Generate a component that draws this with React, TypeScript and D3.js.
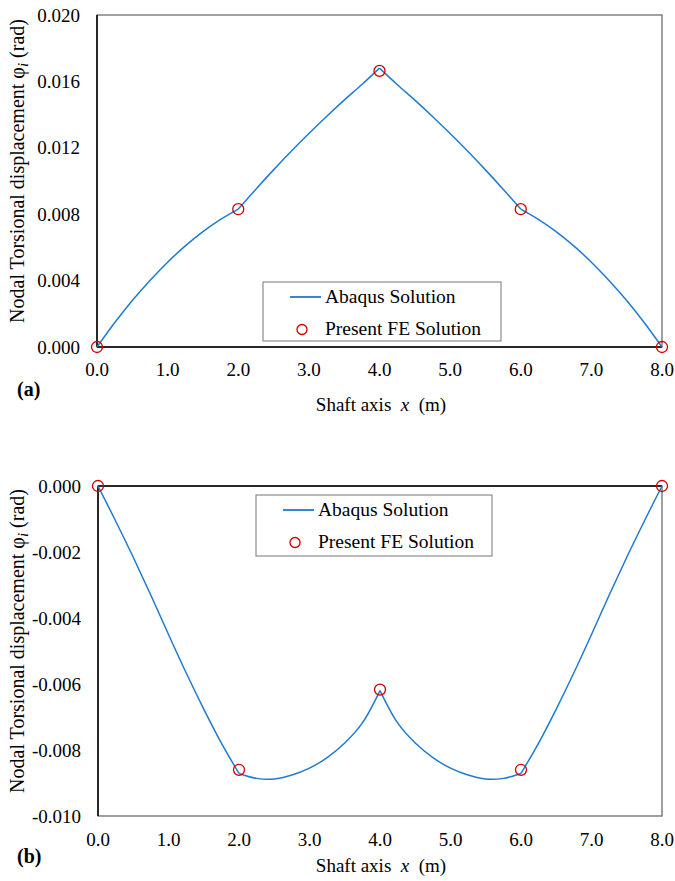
import { useEffect, useRef } from "react";
import * as d3 from "d3";

const xSamples = [0, 0.25, 0.5, 0.75, 1.0, 1.25, 1.5, 1.75, 2.0, 2.25, 2.5, 2.75, 3.0, 3.25, 3.5, 3.75, 4.0,
  4.25, 4.5, 4.75, 5.0, 5.25, 5.5, 5.75, 6.0, 6.25, 6.5, 6.75, 7.0, 7.25, 7.5, 7.75, 8.0];

const abaqusA = [0, 0.00146, 0.0028, 0.00401, 0.00511, 0.00609, 0.00695, 0.00769, 0.00831,
  0.00951, 0.01067, 0.01179, 0.01286, 0.01389, 0.01487, 0.01581, 0.0168,
  0.01581, 0.01487, 0.01389, 0.01286, 0.01179, 0.01067, 0.00951, 0.00831,
  0.00769, 0.00695, 0.00609, 0.00511, 0.00401, 0.0028, 0.00146, 0];

const abaqusB = [0, -0.00106, -0.00216, -0.00331, -0.0045, -0.00566, -0.00676, -0.00779, -0.00871,
  -0.00886, -0.00888, -0.00876, -0.00855, -0.00823, -0.00779, -0.00718, -0.0062,
  -0.00718, -0.00779, -0.00823, -0.00855, -0.00876, -0.00888, -0.00886, -0.00871,
  -0.00779, -0.00676, -0.00566, -0.0045, -0.00331, -0.00216, -0.00106, 0];

// nodal FE results
const nodes = [0, 2, 4, 6, 8];
const feA = [0, 0.0083, 0.01663, 0.0083, 0];
const feB = [0, -0.0086, -0.00617, -0.0086, 0];

const xTicks = [0, 1, 2, 3, 4, 5, 6, 7, 8];
const yTicksA = [0, 0.004, 0.008, 0.012, 0.016, 0.02];
const yTicksB = [0, -0.002, -0.004, -0.006, -0.008, -0.01];

const font = "'Liberation Serif', 'Times New Roman', serif";
const blue = "#1f7bd0";
const red = "#d00000";

function drawPanel(svg, o) {
  const x = d3.scaleLinear().domain([0, 8]).range([o.left, o.right]);
  const y = d3.scaleLinear().domain(o.domain).range([o.bottom, o.top]);
  const g = svg.append("g");

  // plot border
  g.append("rect").attr("x", o.left).attr("y", o.top)
    .attr("width", o.right - o.left).attr("height", o.bottom - o.top)
    .attr("fill", "none").attr("stroke", "#6e6e6e").attr("stroke-width", 1.3);

  // axes lines (x axis at phi = 0)
  g.append("line").attr("x1", o.left).attr("x2", o.left).attr("y1", o.top).attr("y2", o.bottom)
    .attr("stroke", "#000").attr("stroke-width", 1.5);
  g.append("line").attr("x1", o.left).attr("x2", o.right).attr("y1", y(0)).attr("y2", y(0))
    .attr("stroke", "#000").attr("stroke-width", 1.5);

  // tick labels
  g.selectAll(".yl").data(o.yTicks).enter().append("text")
    .attr("x", o.left - 17).attr("y", d => y(d)).attr("dy", "0.35em")
    .attr("text-anchor", "end").attr("font-family", font).attr("font-size", 19)
    .text(d => d3.format(".3f")(d).replace("−", "-"));
  g.selectAll(".xl").data(xTicks).enter().append("text")
    .attr("x", d => x(d)).attr("y", o.xLabelY)
    .attr("text-anchor", "middle").attr("font-family", font).attr("font-size", 19)
    .text(d => d3.format(".1f")(d));

  // Abaqus curve, one piece per element so the nodal kinks remain
  const line = d3.line().x(d => x(d[0])).y(d => y(d[1])).curve(d3.curveCatmullRom);
  for (let e = 0; e < 4; e++) {
    const pts = [];
    for (let i = e * 8; i <= e * 8 + 8; i++) pts.push([xSamples[i], o.curve[i]]);
    g.append("path").attr("d", line(pts)).attr("fill", "none")
      .attr("stroke", blue).attr("stroke-width", 1.5);
  }

  // FE nodes
  g.selectAll(".fe").data(nodes).enter().append("circle")
    .attr("cx", d => x(d)).attr("cy", (d, i) => y(o.fe[i])).attr("r", 5.5)
    .attr("fill", "none").attr("stroke", red).attr("stroke-width", 1.3);

  // legend
  const L = o.legend;
  const lg = g.append("g");
  lg.append("rect").attr("x", L.x).attr("y", L.y).attr("width", L.w).attr("height", L.h)
    .attr("fill", "#fff").attr("stroke", "#8c8c8c").attr("stroke-width", 1.2);
  lg.append("line").attr("x1", L.x + 27).attr("x2", L.x + 58)
    .attr("y1", L.y + 15).attr("y2", L.y + 15).attr("stroke", blue).attr("stroke-width", 1.8);
  lg.append("text").attr("x", L.x + 62).attr("y", L.y + 21).attr("font-family", font).attr("font-size", 19.5)
    .text("Abaqus Solution");
  lg.append("circle").attr("cx", L.x + 39).attr("cy", L.y + 47.5).attr("r", 5)
    .attr("fill", "none").attr("stroke", red).attr("stroke-width", 1.3);
  lg.append("text").attr("x", L.x + 62).attr("y", L.y + 53).attr("font-family", font).attr("font-size", 19.5)
    .text("Present FE Solution");

  // x title
  const xt = g.append("text").attr("x", 381).attr("y", o.xTitleY).attr("text-anchor", "middle")
    .attr("font-family", font).attr("font-size", 19).attr("xml:space", "preserve");
  xt.append("tspan").text("Shaft axis\u00a0\u00a0");
  xt.append("tspan").attr("font-style", "italic").text("x");
  xt.append("tspan").text("\u00a0\u00a0(m)");

  // y title
  const yt = g.append("text")
    .attr("transform", `translate(24,${(o.top + o.bottom) / 2 - 10}) rotate(-90)`)
    .attr("text-anchor", "middle").attr("font-family", font).attr("font-size", 20);
  yt.append("tspan").text("Nodal Torsional displacement φ");
  yt.append("tspan").attr("font-style", "italic").attr("font-size", 15).attr("dy", 4).text("i");
  yt.append("tspan").attr("dy", -4).text(" (rad)");

  // panel tag
  g.append("text").attr("x", 17).attr("y", o.tagY).attr("font-family", font)
    .attr("font-size", 20).attr("font-weight", "bold").text(o.tag);
}

export default function App() {
  const ref = useRef(null);
  useEffect(() => {
    const svg = d3.select(ref.current);
    svg.selectAll("*").remove();
    drawPanel(svg, {
      left: 97, right: 662, top: 15, bottom: 347, domain: [0, 0.02], yTicks: yTicksA,
      curve: abaqusA, fe: feA, xLabelY: 376, xTitleY: 411, tag: "(a)", tagY: 396,
      legend: { x: 263, y: 282, w: 238, h: 59 },
    });
    drawPanel(svg, {
      left: 98, right: 662, top: 486, bottom: 816, domain: [-0.01, 0], yTicks: yTicksB,
      curve: abaqusB, fe: feB, xLabelY: 846, xTitleY: 872, tag: "(b)", tagY: 863,
      legend: { x: 256, y: 495, w: 236, h: 61 },
    });
  }, []);
  return (
    <div style={{ position: "absolute", left: 0, top: 0 }}>
      <svg ref={ref} width={675} height={881} style={{ display: "block", background: "#fff" }} />
    </div>
  );
}
